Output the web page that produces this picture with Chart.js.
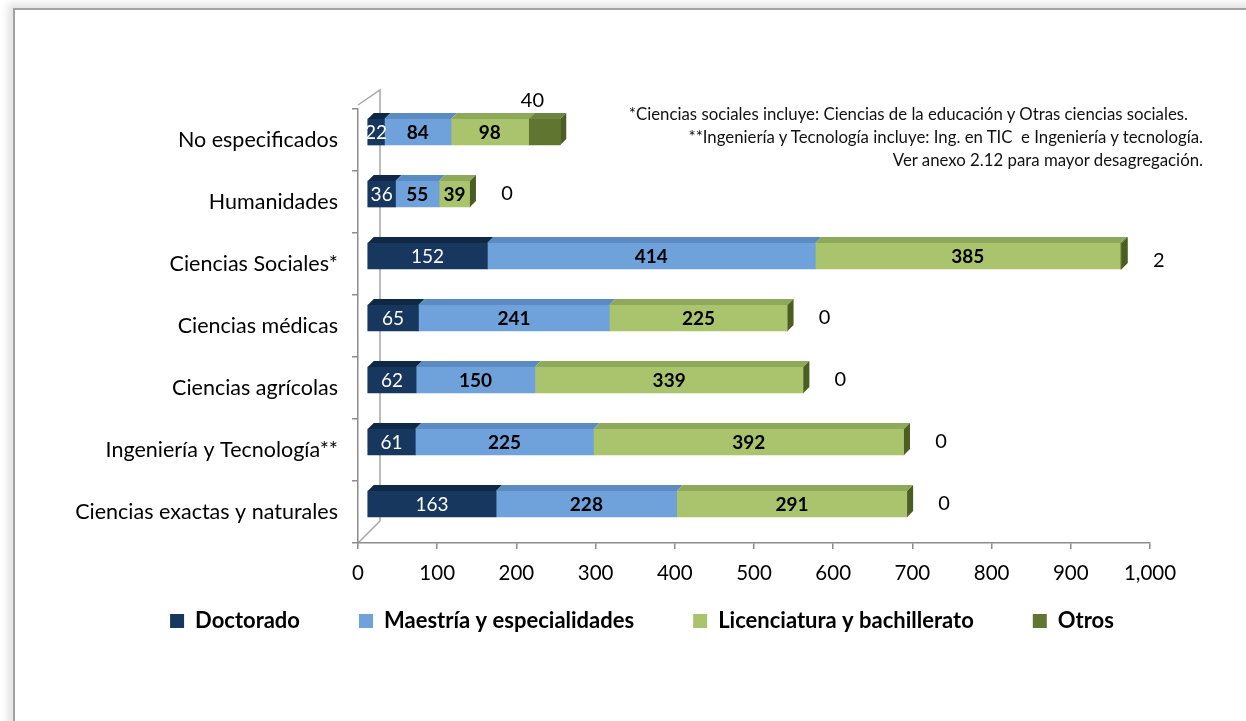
<!DOCTYPE html>
<html>
<head>
<meta charset="utf-8">
<script src="https://cdn.jsdelivr.net/npm/chart.js@4.4.0/dist/chart.umd.min.js"></script>
<style>
body{margin:0;background:#fff;width:1246px;height:721px;overflow:hidden;position:relative;font-family:Lato,sans-serif}
#frame{position:absolute;left:13px;top:8px;width:1300px;height:800px;border-left:2px solid #a3a3a3;border-top:2px solid #a3a3a3;box-shadow:-5px -4px 8px rgba(0,0,0,0.12)}
#chart{position:absolute;left:0;top:0}
#note{position:absolute;right:43px;top:103px;text-align:right;font-size:16.8px;line-height:22.8px;color:#111;white-space:pre}
</style>
</head>
<body>
<div id="frame"></div>
<canvas id="chart" width="1246" height="721"></canvas>
<div id="note"><span style="padding-right:15px">*Ciencias sociales incluye: Ciencias de la educación y Otras ciencias sociales.</span>
**Ingeniería y Tecnología incluye: Ing. en TIC  e Ingeniería y tecnología.
Ver anexo 2.12 para mayor desagregación.</div>
<script>
const categories = ['No especificados', 'Humanidades', 'Ciencias Sociales*', 'Ciencias médicas',
    'Ciencias agrícolas', 'Ingeniería y Tecnología**', 'Ciencias exactas y naturales'];
const doctorado = [22, 36, 152, 65, 62, 61, 163];
const maestria = [84, 55, 414, 241, 150, 225, 228];
const licenciatura = [98, 39, 385, 225, 339, 392, 291];
const otros = [40, 0, 2, 0, 0, 0, 0];
const xTickValues = [0, 100, 200, 300, 400, 500, 600, 700, 800, 900, 1000];

// 3d look: bars sit a bit back from the front axis
const DX = 9, DY = 8;
const TX = 6, TY = 6;
const topColors = ['#0E2846', '#5A8BC3', '#8EA95A', '#6E8540'];
const sideColor = '#4A5D22';

const depthPlugin = {
    id: 'depth',
    afterLayout(chart) {
        // legend sits a bit right of center in the original
        const lg = chart.legend;
        lg.left += 67;
        lg.right += 67;
        lg.top = 551;
        lg.bottom = 715;
    },
    beforeDraw(chart) {
        const {ctx, chartArea: a} = chart;
        ctx.save();
        ctx.strokeStyle = '#A6A6A6';
        ctx.lineWidth = 1.5;
        ctx.beginPath();
        ctx.moveTo(a.left, a.top - 4);
        ctx.lineTo(a.left + 22, a.top - 19);
        ctx.lineTo(a.left + 22, a.bottom - 22);
        ctx.lineTo(a.left, a.bottom);
        ctx.stroke();
        ctx.restore();
    },
    beforeDatasetsDraw(chart) {
        chart.ctx.save();
        chart.ctx.translate(DX, -DY);
    },
    afterDatasetsDraw(chart) {
        const ctx = chart.ctx;
        const n = chart.data.datasets.length;
        chart.data.datasets.forEach((ds, i) => {
            chart.getDatasetMeta(i).data.forEach((bar, j) => {
                const top = bar.y - bar.height / 2, bottom = bar.y + bar.height / 2;
                const l = Math.min(bar.x, bar.base), r = Math.max(bar.x, bar.base);
                ctx.fillStyle = topColors[i];
                ctx.beginPath();
                ctx.moveTo(l, top); ctx.lineTo(r, top);
                ctx.lineTo(r + TX, top - TY); ctx.lineTo(l + TX, top - TY);
                ctx.closePath();
                ctx.fill();
                if (i === n - 1) {
                    ctx.fillStyle = sideColor;
                    ctx.beginPath();
                    ctx.moveTo(r, top); ctx.lineTo(r + TX, top - TY);
                    ctx.lineTo(r + TX, bottom - TY); ctx.lineTo(r, bottom);
                    ctx.closePath();
                    ctx.fill();
                }
            });
        });
        // value labels
        ctx.textAlign = 'center';
        ctx.textBaseline = 'middle';
        chart.data.datasets.forEach((ds, i) => {
            chart.getDatasetMeta(i).data.forEach((bar, j) => {
                const v = ds.data[j];
                const l = Math.min(bar.x, bar.base), r = Math.max(bar.x, bar.base);
                if (i === 0) {
                    ctx.fillStyle = '#fff';
                    ctx.font = '19px Lato';
                    ctx.fillText(v, (l + r) / 2, bar.y + 1);
                } else if (i < n - 1) {
                    ctx.fillStyle = '#000';
                    ctx.font = 'bold 19px Lato';
                    ctx.fillText(v, (l + r) / 2, bar.y + 1);
                } else {
                    ctx.fillStyle = '#000';
                    ctx.font = '20px Lato';
                    if (v >= 10) {
                        ctx.fillText(v, (l + r) / 2 - 12, bar.y - bar.height / 2 - 18);
                    } else {
                        ctx.fillText(v, r + 37, bar.y + (v > 0 ? 5 : 0));
                    }
                }
            });
        });
        ctx.restore();
    }
};

Chart.defaults.font.family = 'Lato';

new Chart(document.getElementById('chart'), {
    type: 'bar',
    data: {
        labels: categories,
        datasets: [
            {label: 'Doctorado', data: doctorado, backgroundColor: '#17375E'},
            {label: 'Maestría y especialidades', data: maestria, backgroundColor: '#6FA2DA'},
            {label: 'Licenciatura y bachillerato', data: licenciatura, backgroundColor: '#A9C46C'},
            {label: 'Otros', data: otros, backgroundColor: '#5F7530'}
        ]
    },
    options: {
        indexAxis: 'y',
        responsive: false,
        devicePixelRatio: 1,
        animation: false,
        barThickness: 26,
        borderWidth: 0,
        layout: {padding: {top: 109, right: 96, bottom: 102, left: 0}},
        scales: {
            x: {
                stacked: true,
                min: 0,
                max: 1000,
                afterBuildTicks(s) { s.ticks = xTickValues.map(v => ({value: v})); },
                afterFit(s) { s.height = 46; },
                grid: {drawOnChartArea: false, drawTicks: true, tickLength: 6, color: '#8C8C8C', lineWidth: 1.5},
                border: {color: '#8C8C8C', width: 1.5},
                ticks: {padding: 12, color: '#000', font: {size: 20.5},
                    callback: v => v.toLocaleString('en-US')}
            },
            y: {
                stacked: true,
                afterFit(s) { s.width = 358; },
                grid: {drawOnChartArea: false, tickLength: 6, color: '#8C8C8C', lineWidth: 1.5},
                border: {color: '#8C8C8C', width: 1.5},
                ticks: {padding: 14, color: '#000', font: {size: 21.5}}
            }
        },
        plugins: {
            tooltip: {enabled: false},
            legend: {
                position: 'bottom',
                maxHeight: 30,
                labels: {boxWidth: 14, boxHeight: 14, padding: 59, color: '#000',
                    font: {size: 22, weight: 'bold'}}
            }
        }
    },
    plugins: [depthPlugin]
});
</script>
</body>
</html>
